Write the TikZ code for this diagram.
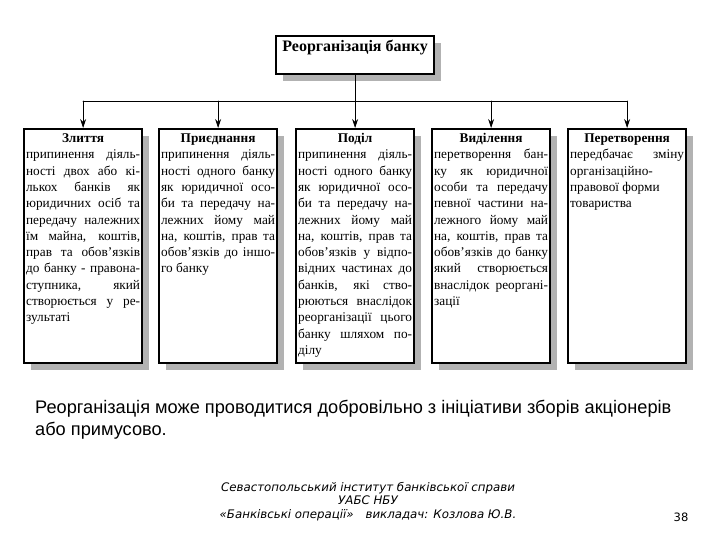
\documentclass[tikz,border=0pt]{standalone}
\usepackage{fontspec}
\setmainfont{Liberation Serif}
\newfontfamily\notefont{Liberation Sans}
\newfontfamily\footfont{DejaVu Sans}
\usetikzlibrary{arrows.meta,shadows}

\tikzset{
  unitbox/.style={draw,line width=2.2pt,fill=white,inner xsep=2pt,inner ysep=2pt,anchor=north west,
    general shadow={fill=black!30,shadow xshift=7pt,shadow yshift=-7pt}},
  wire/.style={line width=0.8pt},
  feed/.style={line width=0.8pt,-{Stealth[length=9pt,width=6pt]}},
}
% box body: bold title on top, justified text below
\newcommand{\unittext}[2]{\parbox[t][230pt][t]{114pt}{\fontsize{13.3}{16.3}\selectfont
  {\centering\bfseries\strut #1\par}#2}}

\begin{document}
\begin{tikzpicture}[x=1pt,y=-1pt,line cap=round]
  \useasboundingbox (0,0) rectangle (720,540);

  \node[unitbox,inner ysep=3pt] (head) at (275,35)
    {\parbox[t][32pt][t]{154pt}{\centering\fontsize{16}{18}\selectfont\bfseries\strut Реорганізація банку}};

  \node[unitbox] (b1) at (23,128) {\unittext{Злиття}{припинення діяль-\linebreak ності двох або кі-\linebreak
    лькох банків як\linebreak юридичних осіб та\linebreak передачу належних\linebreak
    їм майна, коштів,\linebreak прав та обов'язків\linebreak до банку - правона-\linebreak
    ступника, який\linebreak створюється у ре-\linebreak зультаті}};
  \node[unitbox] (b2) at (158,128) {\unittext{Приєднання}{припинення діяль-\linebreak
    ності одного банку\linebreak як юридичної осо-\linebreak би та передачу на-\linebreak
    лежних йому май\linebreak на, коштів, прав та\linebreak обов'язків до іншо-\linebreak го банку}};
  \node[unitbox] (b3) at (295,128) {\unittext{Поділ}{припинення діяль-\linebreak
    ності одного банку\linebreak як юридичної осо-\linebreak би та передачу на-\linebreak
    лежних йому май\linebreak на, коштів, прав та\linebreak обов'язків у відпо-\linebreak
    відних частинах до\linebreak банків, які ство-\linebreak рюються внаслідок\linebreak
    реорганізації цього\linebreak банку шляхом по-\linebreak ділу}};
  \node[unitbox] (b4) at (431,128) {\unittext{Виділення}{перетворення бан-\linebreak
    ку як юридичної\linebreak особи та передачу\linebreak певної частини на-\linebreak
    лежного йому май\linebreak на, коштів, прав та\linebreak обов'язків до банку\linebreak
    який створюється\linebreak внаслідок реоргані-\linebreak зації}};
  \node[unitbox] (b5) at (567,128) {\unittext{Перетворення}{передбачає змiну\linebreak
    організаційно-\newline правової форми\newline товариства}};

  % connectors
  \coordinate (bus) at (354,101);
  \draw[wire] (head.south) -- (head.south |- bus);
  \draw[wire] (b1.north |- bus) -- (b5.north |- bus);
  \foreach \b in {b1,b2,b3,b4,b5}
    \draw[feed] (\b.north |- bus) -- (\b.north);

  \node[anchor=north west,inner sep=0,align=left,font=\notefont\fontsize{18.2}{22}\selectfont] (note) at (35,400)
    {Реорганізація може проводитися добровільно з ініціативи зборів акціонерів\\або примусово.};

  \node[anchor=north,inner sep=0,align=center,font=\footfont\itshape\fontsize{11.8}{13.5}\selectfont] (foot) at (368,482)
    {Севастопольський інститут банківської справи\\УАБС НБУ\hspace*{28pt}\\«Банківські операції»\quad викладач: Козлова Ю.В.};
  \node[font=\footfont\fontsize{11.5}{12}\selectfont,inner sep=0] (page) at (681,517) {38};
\end{tikzpicture}
\end{document}
